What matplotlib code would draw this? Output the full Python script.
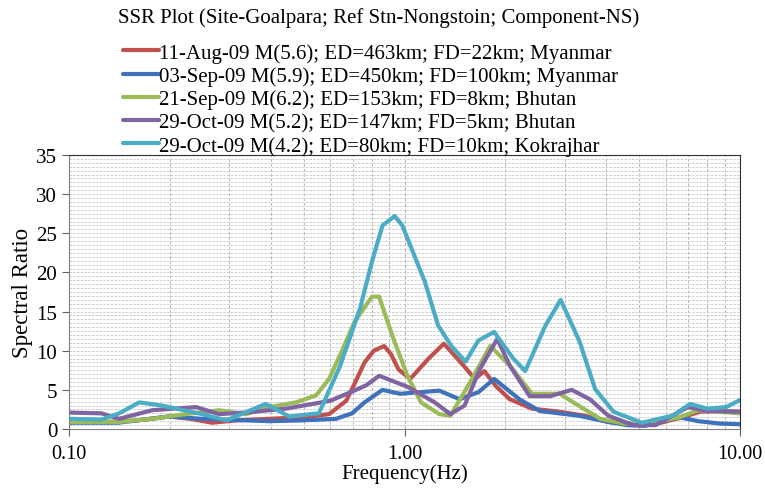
import numpy as np
import matplotlib
matplotlib.use("Agg")
import matplotlib.pyplot as plt
from matplotlib.ticker import FixedLocator, NullFormatter, LogLocator

plt.rcParams['font.family'] = ['Liberation Serif', 'DejaVu Serif']

labels = [
    "11-Aug-09 M(5.6); ED=463km; FD=22km; Myanmar",
    "03-Sep-09 M(5.9); ED=450km; FD=100km; Myanmar",
    "21-Sep-09 M(6.2); ED=153km; FD=8km; Bhutan",
    "29-Oct-09 M(5.2); ED=147km; FD=5km; Bhutan",
    "29-Oct-09 M(4.2); ED=80km; FD=10km; Kokrajhar",
]
colors = ["#C0504D", "#3F72BA", "#9BBB59", "#8064A2", "#4BACC6"]

# Red: 11-Aug-09
red_f = [0.10, 0.13, 0.16, 0.199, 0.23, 0.267, 0.315, 0.394, 0.50, 0.596, 0.67, 0.71, 0.76,
         0.81, 0.87, 0.91, 0.96, 1.04, 1.18, 1.31, 1.50, 1.62, 1.73, 1.87,
         2.06, 2.40, 2.90, 3.45, 4.05, 5.0, 5.8, 6.6, 7.6, 8.7, 10.0]
red_v = [1.0, 0.9, 1.1, 1.6, 1.3, 0.8, 1.1, 1.3, 1.5, 1.9, 3.6, 5.8, 8.5,
         10.0, 10.6, 9.6, 7.6, 6.4, 9.0, 10.9, 8.1, 6.4, 7.4, 5.5,
         3.8, 2.6, 2.2, 1.7, 0.9, 0.6, 0.8, 1.4, 2.2, 2.3, 2.2]

# Blue: 03-Sep-09
blue_f = [0.10, 0.14, 0.199, 0.249, 0.394, 0.495, 0.625, 0.698, 0.76, 0.86, 0.97,
          1.27, 1.46, 1.66, 1.85, 2.20, 2.53, 3.30, 4.05,
          4.6, 5.2, 6.6, 7.5, 8.7, 10.0]
blue_v = [0.8, 0.8, 1.6, 1.3, 1.0, 1.1, 1.3, 2.0, 3.4, 5.0, 4.5,
          4.9, 3.8, 4.7, 6.4, 3.8, 2.3, 1.7, 0.9,
          0.5, 0.4, 1.5, 1.0, 0.7, 0.6]

# Green: 21-Sep-09
green_f = [0.10, 0.14, 0.177, 0.223, 0.28, 0.337, 0.394, 0.475, 0.545, 0.596, 0.642,
           0.71, 0.80, 0.84, 0.92, 1.02, 1.12, 1.27, 1.37, 1.57, 1.80, 2.06, 2.40,
           2.90, 3.30, 3.83, 4.5, 5.2, 6.6, 7.5, 8.7, 10.0]
green_v = [0.9, 0.9, 1.3, 1.9, 2.4, 1.9, 2.8, 3.4, 4.3, 6.4, 9.4,
           13.7, 16.9, 16.9, 11.9, 6.8, 3.4, 1.9, 1.7, 6.0, 10.6, 8.1, 4.5,
           4.5, 3.0, 1.3, 0.7, 0.6, 1.5, 2.4, 2.2, 2.0]

# Purple: 29-Oct-09 Bhutan
purple_f = [0.10, 0.125, 0.141, 0.177, 0.239, 0.28, 0.337, 0.443, 0.60, 0.70, 0.77, 0.84,
            1.02, 1.23, 1.37, 1.51, 1.68, 1.89, 2.06, 2.36,
            2.72, 3.15, 3.57, 4.05, 4.8, 5.6, 6.6, 7.0, 8.0, 10.0]
purple_v = [2.1, 2.0, 1.3, 2.4, 2.8, 1.9, 2.1, 2.6, 3.6, 4.8, 5.6, 6.8,
            5.4, 3.4, 1.9, 3.0, 7.7, 11.5, 8.1, 4.2,
            4.2, 5.0, 3.8, 1.7, 0.5, 0.5, 2.2, 2.8, 2.3, 2.2]

# Cyan: 29-Oct-09 Kokrajhar
cyan_f = [0.10, 0.125, 0.141, 0.162, 0.189, 0.249, 0.294, 0.386, 0.453, 0.556,
          0.642, 0.737, 0.80, 0.86, 0.935, 0.985, 1.15, 1.26, 1.38, 1.52, 1.66, 1.85,
          2.11, 2.29, 2.63, 2.92, 3.33, 3.70, 4.20, 5.1, 6.3, 7.1, 8.0, 9.1, 10.0]
cyan_v = [1.3, 1.2, 2.0, 3.4, 3.0, 1.9, 1.1, 3.2, 1.6, 2.0,
          8.0, 15.4, 21.4, 26.0, 27.2, 26.0, 18.8, 13.2, 10.6, 8.6, 11.3, 12.4,
          9.0, 7.4, 13.2, 16.5, 11.1, 5.1, 2.2, 0.8, 1.7, 3.2, 2.6, 2.8, 3.7]

series_f = [red_f, blue_f, green_f, purple_f, cyan_f]
series_v = [red_v, blue_v, green_v, purple_v, cyan_v]

x_ticks = [0.1, 1.0, 10.0]
x_tick_labels = ["0.10", "1.00", "10.00"]
y_ticks = [0, 5, 10, 15, 20, 25, 30, 35]

fig = plt.figure(figsize=(7.65, 4.89), dpi=100)
ax = fig.add_axes([69/765, 1-430/489, (740-69)/765, (430-156)/489])

handles = []
for f, v, c, lab in zip(series_f, series_v, colors, labels):
    h, = ax.plot(f, v, color=c, lw=3.0, label=lab, solid_joinstyle='round', solid_capstyle='round')
    handles.append(h)

ax.set_xscale('log')
ax.set_xlim(0.1, 10)
ax.set_ylim(0, 35)
ax.xaxis.set_major_locator(FixedLocator(x_ticks))
ax.set_xticklabels(x_tick_labels)
ax.xaxis.set_minor_locator(LogLocator(base=10, subs=np.arange(2, 10)))
ax.xaxis.set_minor_formatter(NullFormatter())
ax.set_yticks(y_ticks)
ax.set_yticks(np.arange(0, 35.01, 0.5), minor=True)

ax.grid(True, which='major', axis='x', color='#b0b0b0', lw=0.8, ls=(0, (3, 2)))
ax.grid(True, which='minor', axis='x', color='#b8b8b8', lw=0.7, ls=(0, (3, 2)))
ax.grid(True, which='both', axis='y', color='#c8c8c8', lw=0.6, ls=(0, (3, 1.5)))
ax.set_axisbelow(True)

ax.tick_params(axis='y', which='major', labelsize=15, direction='out', length=5, color='#606060')
ax.tick_params(axis='x', which='major', labelsize=14.5, direction='out', length=5, color='#606060', pad=6)
ax.tick_params(axis='both', which='minor', length=0)
for s in ['top', 'right']:
    ax.spines[s].set_color('#303030')
for s in ['left', 'bottom']:
    ax.spines[s].set_color('#808080')

ax.set_xlabel("Frequency(Hz)", fontsize=15, labelpad=0)
ax.set_ylabel("Spectral Ratio", fontsize=16.5, labelpad=2)

fig.text(118/765, 1-18/489, "SSR Plot (Site-Goalpara; Ref Stn-Nongstoin; Component-NS)",
         fontsize=15, ha='left', va='center')

fig.legend(handles=handles, labels=labels, loc='upper left', bbox_to_anchor=(123/765, 1-44/489),
           frameon=False, fontsize=15, handlelength=1.75, handletextpad=0.0,
           labelspacing=0.17, borderaxespad=0, borderpad=0)

fig.savefig("out.png", dpi=100)
